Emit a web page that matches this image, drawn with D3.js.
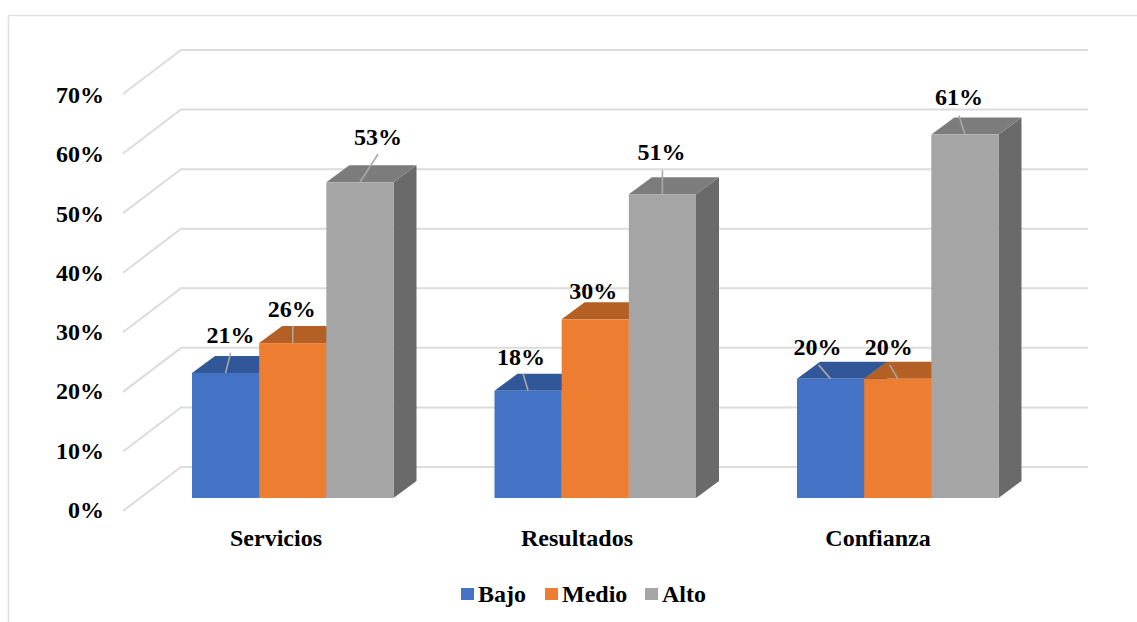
<!DOCTYPE html>
<html>
<head>
<meta charset="utf-8">
<script src="https://cdn.jsdelivr.net/npm/d3@7/dist/d3.min.js"></script>
<style>
html,body{margin:0;padding:0;background:#fff}
svg{display:block}
text{font-family:"Liberation Serif",serif;font-weight:bold;fill:#000}
</style>
</head>
<body>
<script>
const categories = ["Servicios", "Resultados", "Confianza"];
const seriesNames = ["Bajo", "Medio", "Alto"];
const bajo = [21, 18, 20];
const medio = [26, 30, 20];
const alto = [53, 51, 61];
const tickValues = [0, 10, 20, 30, 40, 50, 60, 70];
const seriesColors = ["#4472c4", "#ed7d31", "#a5a5a5"];
const topColors = ["#325798", "#b45f23", "#7c7c7c"];
const sideColors = ["#2c4c85", "#a05420", "#6a6a6a"];

const values = [bajo, medio, alto];
const width = 1137, height = 622;
const depthX = 23, depthY = 17;      // oblique offset of a bar's top and side faces
const wallY = 44;                    // vertical rise of the side wall
const floorDrop = 13;                // front of the floor sits below the bars' base
const fontSize = 24;

const svg = d3.select("body").append("svg").attr("width", width).attr("height", height);

// Outer chart frame, open at the bottom and right
svg.append("path")
  .attr("d", "M8.5,622V15.5H1137")
  .attr("fill", "none").attr("stroke", "#e0e0e0").attr("stroke-width", 1.5);

const y = d3.scaleLinear().domain([0, 70]).range([498, 81]);
const tickBaseline = d3.scaleLinear().domain([0, 70]).range([518, 103]);
const groupX = d3.scaleBand().domain(categories).range([192, 1099.5]);
const inner = d3.scaleBand().domain(seriesNames).range([0, 201.5]);
const categoryCenter = d3.scalePoint().domain(categories).range([276, 878]);

// Gridlines on the side wall and back wall
const grid = svg.append("g").attr("fill", "none").attr("stroke", "#dcdcdc").attr("stroke-width", 2);
grid.selectAll("path").data(tickValues).join("path")
  .attr("d", t => {
    const front = y(t) + floorDrop;
    const back = front - wallY;
    return `M123,${front}L181,${back}H1088`;
  });

// Value axis labels
svg.append("g").selectAll("text").data(tickValues).join("text")
  .attr("x", 104).attr("y", t => tickBaseline(t))
  .attr("text-anchor", "end").attr("font-size", fontSize)
  .text(t => t + "%");

// Oblique bars, drawn left to right so each front face covers its neighbour's side
const bars = categories.flatMap((c, ci) => seriesNames.map((s, si) => ({
  c, ci, s, si, v: values[si][ci],
  x0: groupX(c) + inner(s), w: inner.bandwidth()
})));

const barG = svg.append("g").selectAll("g").data(bars).join("g");
barG.append("path").attr("fill", d => sideColors[d.si])
  .attr("d", d => {
    const r = d.x0 + d.w, t = y(d.v), b = y(0);
    return `M${r},${t}l${depthX},${-depthY}V${b - depthY}L${r},${b}Z`;
  });
barG.append("path").attr("fill", d => topColors[d.si])
  .attr("d", d => {
    const t = y(d.v);
    return `M${d.x0},${t}l${depthX},${-depthY}h${d.w}l${-depthX},${depthY}Z`;
  });
barG.append("rect").attr("fill", d => seriesColors[d.si])
  .attr("x", d => d.x0).attr("y", d => y(d.v))
  .attr("width", d => d.w).attr("height", d => y(0) - y(d.v));

// Data labels sit at hand-placed offsets from the bar's top centre, joined by leader lines
const labelDx = [[5, -1, 18], [-7, -2, -1], [-13, -9, -6]];
const labelDy = [[-30, -26, -37], [-26, -20, -34], [-24, -24, -30]];
const leaderDx = [[5, 0, 18], [-5, 0, 0], [-12, -8, -6]];
const leaderDy = [[-20, -17, -28], [-17, 0, -24], [-14, -14, -19]];

barG.append("path")
  .attr("fill", "none").attr("stroke", "#a8a8a8").attr("stroke-width", 1.6)
  .attr("d", d => {
    const cx = d.x0 + d.w / 2, t = y(d.v);
    return `M${cx},${t}L${cx + leaderDx[d.ci][d.si]},${t + leaderDy[d.ci][d.si]}`;
  });
svg.append("g").selectAll("text").data(bars).join("text")
  .attr("text-anchor", "middle").attr("font-size", fontSize)
  .attr("x", d => d.x0 + d.w / 2 + labelDx[d.ci][d.si])
  .attr("y", d => y(d.v) + labelDy[d.ci][d.si])
  .text(d => d.v + "%");

// Category labels
svg.append("g").selectAll("text").data(categories).join("text")
  .attr("x", c => categoryCenter(c)).attr("y", 546)
  .attr("text-anchor", "middle").attr("font-size", fontSize)
  .text(c => c);

// Legend
const legendSwatchX = [461, 545, 645];
const legend = svg.append("g").selectAll("g").data(seriesNames).join("g")
  .attr("transform", (s, i) => `translate(${legendSwatchX[i]},588)`);
legend.append("rect").attr("width", 13).attr("height", 12)
  .attr("fill", (s, i) => seriesColors[i]);
legend.append("text").attr("x", 17).attr("y", 14).attr("font-size", fontSize).text(s => s);
</script>
</body>
</html>
